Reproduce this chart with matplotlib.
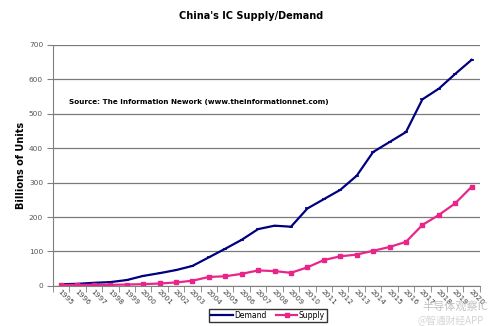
import numpy as np
import matplotlib.pyplot as plt

plt.rcParams['font.family'] = ['DejaVu Sans', 'Noto Sans CJK SC']

# Data (billions of units)
years = [str(y) for y in range(1995, 2021)]
demand = [5, 6, 9, 11, 17, 29, 37, 46, 58, 83, 108, 134, 165, 175, 172,
          225, 252, 279, 320, 389, 418, 447, 542, 573, 616, 657]
supply = [3, 3, 3, 3, 4, 5, 7, 10, 15, 26, 28, 35, 45, 43, 38,
          54, 75, 86, 91, 102, 113, 128, 177, 206, 240, 288]

fig = plt.figure(figsize=(5.03, 3.26), dpi=100)
ax = fig.add_axes([0.105, 0.123, 0.849, 0.739])

x = np.arange(len(years))
ax.plot(x, demand, color='#000080', lw=1.6, marker='_', ms=3, mew=1.2,
        label='Demand')
ax.plot(x, supply, color='#e8268a', lw=1.6, marker='s', ms=2.2,
        label='Supply')

ax.set_xlim(-0.5, len(years) - 0.5)
ax.set_ylim(0, 700)
ax.set_yticks(range(0, 701, 100))
ax.yaxis.grid(True, color='#7a7a7a', lw=0.9)
ax.set_axisbelow(True)

ax.set_xticks(x)
ax.set_xticklabels(years, rotation=-45, ha='left', va='top',
                   rotation_mode='anchor', fontsize=5.3, color='#444444')
ax.set_xticks(np.arange(-0.5, len(years)), minor=True)
ax.tick_params(axis='x', which='major', length=0, pad=2)
ax.tick_params(axis='x', which='minor', length=4, color='#808080')
ax.tick_params(axis='y', length=4, color='#808080', labelsize=5.3,
               labelcolor='#555555', pad=3)

for s in ['top', 'right']:
    ax.spines[s].set_visible(False)
for s in ['left', 'bottom']:
    ax.spines[s].set_color('#808080')

ax.set_ylabel('Billions of Units', fontsize=7, fontweight='bold')
ax.yaxis.set_label_coords(-0.062, 0.5)

ax.text(0.037, 0.757, 'Source: The Information Nework (www.theinformationnet.com)',
        transform=ax.transAxes, fontsize=5.2, fontweight='bold')

fig.suptitle("China's IC Supply/Demand", x=0.5, y=0.965, fontsize=7,
             fontweight='bold')

fig.legend(loc='center', bbox_to_anchor=(0.533, 0.032), ncol=2, fontsize=5.5,
           frameon=True, fancybox=False, edgecolor='black', handlelength=2.8,
           columnspacing=1.2, borderpad=0.3, handletextpad=0.2)

# watermark
fig.text(0.84, 0.05, '半导体观察IC', fontsize=8, color='#bbbbbb',
         family=['Noto Sans CJK SC'], alpha=0.9)
fig.text(0.83, 0.005, '@智通财经APP', fontsize=7, color='#d5d5d5',
         family=['Noto Sans CJK SC'])

fig.savefig('out.png', dpi=100)
